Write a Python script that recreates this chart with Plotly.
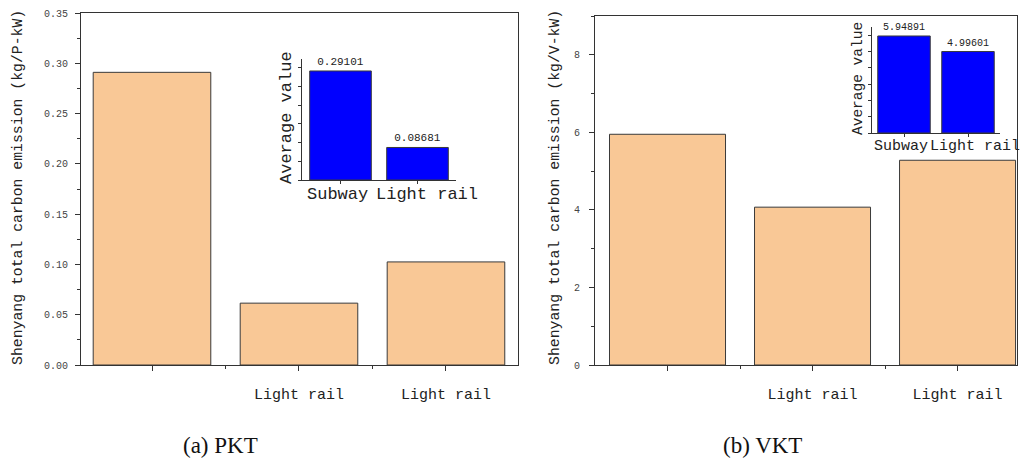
import plotly.graph_objects as go

# ---------------- data ----------------
categories = ["", "Light rail", "Light rail"]
pkt_values = [0.291, 0.0615, 0.1025]
vkt_values = [5.95, 4.07, 5.28]

inset_categories = ["Subway", "Light rail"]
pkt_avg = [0.29101, 0.08681]
vkt_avg = [5.94891, 4.99601]

pkt_yticks = [0.0, 0.05, 0.10, 0.15, 0.20, 0.25, 0.30, 0.35]
vkt_yticks = [0, 2, 4, 6, 8]

captions = ["(a) PKT", "(b) VKT"]
y_titles = ["Shenyang total carbon emission (kg/P-kW)",
            "Shenyang total carbon emission (kg/V-kW)"]
inset_title = "Average value"

# ---------------- helpers ----------------
W, H = 1022, 468
def px(x):
    return x / W
def py(y):
    return 1 - y / H

MONO = "Liberation Mono"
SERIF = "Liberation Serif"
PEACH = "#F9C896"
BLUE = "#0000FF"
EDGE = "#3a3a3a"
AX = "#333333"

pos_main = list(range(len(categories)))
pos_inset = list(range(len(inset_categories)))

fig = go.Figure()

fig.add_trace(go.Bar(x=pos_main, y=pkt_values, width=0.8, marker_color=PEACH,
                     marker_line=dict(color=EDGE, width=1), xaxis="x", yaxis="y",
                     showlegend=False, hoverinfo="skip"))
fig.add_trace(go.Bar(x=pos_main, y=vkt_values, width=0.8, marker_color=PEACH,
                     marker_line=dict(color=EDGE, width=1), xaxis="x2", yaxis="y2",
                     showlegend=False, hoverinfo="skip"))
fig.add_trace(go.Bar(x=pos_inset, y=pkt_avg, width=0.8, marker_color=BLUE,
                     marker_line=dict(color=EDGE, width=1), xaxis="x3", yaxis="y3",
                     text=[f"{v:.5f}" for v in pkt_avg], textposition="outside",
                     textfont=dict(family=MONO, size=11, color="#222"),
                     cliponaxis=False, showlegend=False, hoverinfo="skip"))
fig.add_trace(go.Bar(x=pos_inset, y=vkt_avg, width=0.82, marker_color=BLUE,
                     marker_line=dict(color=EDGE, width=1), xaxis="x4", yaxis="y4",
                     text=[f"{v:.5f}" for v in vkt_avg], textposition="outside",
                     textfont=dict(family=MONO, size=10, color="#222"),
                     cliponaxis=False, showlegend=False, hoverinfo="skip"))

main_x = dict(showline=True, linecolor=AX, linewidth=1, mirror=True,
              ticks="outside", ticklen=5, tickcolor=AX, automargin=False, tickangle=0,
              minor=dict(tickvals=[0.5, 1.5], ticks="outside", ticklen=3, tickcolor=AX),
              tickvals=pos_main, ticktext=categories,
              tickfont=dict(family=MONO, size=15, color="#222"),
              ticklabelstandoff=10, showgrid=False, zeroline=False, fixedrange=True)
main_y = dict(showline=True, linecolor=AX, linewidth=1, mirror=True, automargin=False,
              ticks="outside", ticklen=5, tickcolor=AX,
              tickfont=dict(family=MONO, size=10, color="#444"),
              showgrid=False, zeroline=False, fixedrange=True)

inset_x = dict(showline=True, linecolor=AX, linewidth=1, ticks="outside", ticklen=3,
               tickcolor=AX, tickvals=pos_inset, showticklabels=False,
               showgrid=False, zeroline=False, automargin=False,
               range=[-0.5, 1.5], fixedrange=True)
inset_y = dict(showline=True, linecolor=AX, linewidth=1, ticks="outside", ticklen=3,
               tickcolor=AX, showticklabels=False, showgrid=False, zeroline=False,
               automargin=False, fixedrange=True)

fig.update_layout(
    width=W, height=H, autosize=False,
    margin=dict(l=0, r=0, t=0, b=0),
    paper_bgcolor="white", plot_bgcolor="rgba(0,0,0,0)",
    bargap=0.2,
    xaxis=dict(main_x, domain=[px(81), px(518)], range=[-0.483, 2.49], anchor="y"),
    yaxis=dict(main_y, domain=[py(365), py(13)], range=[0, 0.35],
               tickvals=pkt_yticks, tickformat=".2f", ticklabelstandoff=5,
               minor=dict(dtick=0.025, ticks="outside", ticklen=3, tickcolor=AX),
               anchor="x"),
    xaxis2=dict(main_x, domain=[px(595), px(1017)], range=[-0.5, 2.41], anchor="y2"),
    yaxis2=dict(main_y, domain=[py(365), py(16)], range=[0, 9],
                tickvals=vkt_yticks, ticklabelstandoff=7,
                minor=dict(dtick=1, ticks="outside", ticklen=3, tickcolor=AX),
                anchor="x2"),
    xaxis3=dict(inset_x, domain=[px(302), px(456)], anchor="y3"),
    yaxis3=dict(inset_y, domain=[py(180), py(59)], range=[0, 0.323], dtick=0.05, anchor="x3"),
    xaxis4=dict(inset_x, domain=[px(872), px(1000)], anchor="y4"),
    yaxis4=dict(inset_y, domain=[py(133), py(27)], range=[0, 6.5], dtick=1, anchor="x4"),
)

annotations = [
    dict(text=y_titles[0], x=px(18), y=py(188), textangle=-90,
         font=dict(family=MONO, size=14.8, color="#222")),
    dict(text=y_titles[1], x=px(555), y=py(188), textangle=-90,
         font=dict(family=MONO, size=14.8, color="#222")),
    dict(text=inset_title, x=px(286), y=py(118), textangle=-90,
         font=dict(family=MONO, size=17, color="#222")),
    dict(text=inset_title, x=px(858), y=py(79), textangle=-90,
         font=dict(family=MONO, size=14.5, color="#222")),
    dict(text=captions[0], x=px(220), y=py(445),
         font=dict(family=SERIF, size=23, color="#111")),
    dict(text=captions[1], x=px(762), y=py(445),
         font=dict(family=SERIF, size=23, color="#111")),
]
for a in annotations:
    a.update(xref="paper", yref="paper", xanchor="center", yanchor="middle")

# inset category labels, anchored to the inset axes' category positions
left_shift = [-3, 9]
right_shift = [-3.5, 7]
for i, name in enumerate(inset_categories):
    annotations.append(dict(text=name, xref="x3", yref="y3", x=pos_inset[i], y=0,
                            xanchor="center", yanchor="top", xshift=left_shift[i], yshift=-3,
                            font=dict(family=MONO, size=17, color="#222")))
    annotations.append(dict(text=name, xref="x4", yref="y4", x=pos_inset[i], y=0,
                            xanchor="center", yanchor="top", xshift=right_shift[i], yshift=-3,
                            font=dict(family=MONO, size=15, color="#222")))
for a in annotations:
    a.update(showarrow=False)
fig.update_layout(annotations=annotations)

fig.write_html("out.html")
